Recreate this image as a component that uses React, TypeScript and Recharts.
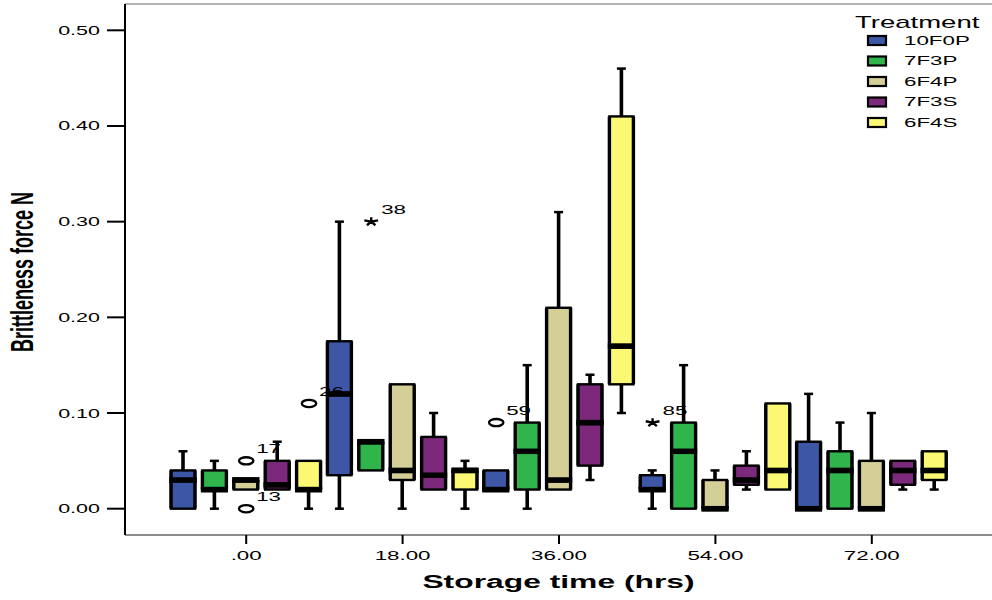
import React from 'react';
import { ComposedChart, Bar, Scatter, XAxis, YAxis, ReferenceLine } from 'recharts';

const TIMES = ['.00', '18.00', '36.00', '54.00', '72.00'];
const TREATMENTS = ['10F0P', '7F3P', '6F4P', '7F3S', '6F4S'];
const COLORS = ['#3d56a6', '#2fb54b', '#d4cf97', '#7c297c', '#fbf873'];

// [min, q1, median, q3, max] for each storage time
const BOX_10F0P = [
  [0, 0, 0.03, 0.04, 0.06],
  [0, 0.035, 0.12, 0.175, 0.3],
  [0.02, 0.02, 0.02, 0.04, 0.04],
  [0, 0.02, 0.02, 0.035, 0.04],
  [0, 0, 0, 0.07, 0.12]
];
const BOX_7F3P = [
  [0, 0.02, 0.02, 0.04, 0.05],
  [0.04, 0.04, 0.07, 0.07, 0.07],
  [0, 0.02, 0.06, 0.09, 0.15],
  [0, 0, 0.06, 0.09, 0.15],
  [0, 0, 0.04, 0.06, 0.09]
];
const BOX_6F4P = [
  [0.02, 0.02, 0.03, 0.03, 0.03],
  [0, 0.03, 0.04, 0.13, 0.13],
  [0.02, 0.02, 0.03, 0.21, 0.31],
  [0, 0, 0, 0.03, 0.04],
  [0, 0, 0, 0.05, 0.1]
];
const BOX_7F3S = [
  [0.02, 0.02, 0.025, 0.05, 0.07],
  [0.02, 0.02, 0.035, 0.075, 0.1],
  [0.03, 0.045, 0.09, 0.13, 0.14],
  [0.02, 0.025, 0.03, 0.045, 0.06],
  [0.02, 0.025, 0.04, 0.05, 0.05]
];
const BOX_6F4S = [
  [0, 0.02, 0.02, 0.05, 0.05],
  [0, 0.02, 0.04, 0.04, 0.05],
  [0.1, 0.13, 0.17, 0.41, 0.46],
  [0.02, 0.02, 0.04, 0.11, 0.11],
  [0.02, 0.03, 0.04, 0.06, 0.06]
];
const BOXES = [BOX_10F0P, BOX_7F3P, BOX_6F4P, BOX_7F3S, BOX_6F4S];

// outliers (o) and extremes (*)
const OUT_TIME = [0, 0, 0, 1, 2, 3];
const OUT_TREAT = [2, 2, 4, 1, 0, 0];
const OUT_VALUE = [0.05, 0, 0.11, 0.3, 0.09, 0.09];
const OUT_CASE = ['17', '13', '26', '38', '59', '85'];
const OUT_EXTREME = [false, false, false, true, false, true];

const Y_TICKS = [0, 0.1, 0.2, 0.3, 0.4, 0.5];
const Y_DOMAIN = [-0.0275, 0.5275];

const FONT = '"Liberation Sans", Arial, Helvetica, sans-serif';
const SX = 1.72; // the SPSS export is stretched sideways
const W = 992;
const H = 600;
const Y_AXIS_W = 125;
const PAD = { left: 43, right: 42 };
const BAND = (W - Y_AXIS_W - PAD.left - PAD.right) / TIMES.length;
const BOX_W = 24;
const BOX_GAP = 7.4;
const SLOT = (BOX_W + BOX_GAP) / BAND;

const rows = TIMES.map((t, i) => {
  const row: any = { time: t };
  BOXES.forEach((b, k) => {
    const [mn, q1, md, q3, mx] = b[i];
    row[`base${k}`] = mn;
    row[`lw${k}`] = q1 - mn;
    row[`bl${k}`] = md - q1;
    row[`bu${k}`] = q3 - md;
    row[`uw${k}`] = mx - q3;
  });
  return row;
});

const outliers = OUT_VALUE.map((v, i) => ({
  x: OUT_TIME[i] + (OUT_TREAT[i] - 2) * SLOT,
  y: v,
  label: OUT_CASE[i],
  extreme: OUT_EXTREME[i]
}));

function Whisker({ x, y, width, height, upper }: any) {
  if (!(height > 0.5)) return <g />;
  const cx = x + width / 2;
  const capY = upper ? y : y + height;
  return (
    <g>
      <line x1={cx} x2={cx} y1={y} y2={y + height} stroke="#000" strokeWidth={3.6} />
      <line x1={cx - 4.5} x2={cx + 4.5} y1={capY} y2={capY} stroke="#000" strokeWidth={2.5} />
    </g>
  );
}

function BoxHalf({ x, y, width, height, color, upper }: any) {
  const medY = upper ? y + height : y;
  return (
    <g>
      {height > 0.3 && (
        <g>
          <rect x={x} y={y} width={width} height={height} fill={color} stroke="#000" strokeWidth={2.4} />
          <line x1={x} x2={x} y1={y} y2={y + height} stroke="#000" strokeWidth={3.4} />
          <line x1={x + width} x2={x + width} y1={y} y2={y + height} stroke="#000" strokeWidth={3.4} />
        </g>
      )}
      <line x1={x - 1.5} x2={x + width + 1.5} y1={medY} y2={medY} stroke="#000" strokeWidth={5.5} />
    </g>
  );
}

function Outlier({ cx, cy, payload }: any) {
  const arms = [-90, -18, 54, 126, 198].map((a) => {
    const r = (a * Math.PI) / 180;
    return `M${cx},${cy}L${cx + Math.cos(r) * 4.2 * SX},${cy + Math.sin(r) * 4.4}`;
  });
  return (
    <g>
      {payload.extreme ? (
        <path d={arms.join('')} stroke="#000" strokeWidth={2.4} fill="none" />
      ) : (
        <ellipse cx={cx} cy={cy} rx={7.2} ry={3.6} fill="none" stroke="#000" strokeWidth={2.3} />
      )}
      <text
        transform={`translate(${cx + 10},${cy - 12}) scale(${SX},1)`}
        fontSize={13}
        fontFamily={FONT}
        dy="0.35em"
        fill="#000"
      >
        {payload.label}
      </text>
    </g>
  );
}

function YTick({ x, y, payload }: any) {
  return (
    <text transform={`translate(${x},${y}) scale(${SX},1)`} textAnchor="end" dy="0.36em" fontSize={12.5} fontFamily={FONT} fill="#000">
      {Number(payload.value).toFixed(2)}
    </text>
  );
}

function XTick({ x, y, payload }: any) {
  return (
    <text transform={`translate(${x},${y}) scale(${SX},1)`} textAnchor="middle" dy="0.71em" fontSize={13} fontFamily={FONT} fill="#000">
      {payload.value}
    </text>
  );
}

function YTitle() {
  return (
    <text
      transform={`translate(22,272) scale(${SX},1) rotate(-90)`}
      textAnchor="middle"
      dy="0.35em"
      fontSize={18}
      fontWeight="bold"
      fontFamily={FONT}
      fill="#000"
    >
      Brittleness force N
    </text>
  );
}

function XTitle({ viewBox }: any) {
  const cx = viewBox ? viewBox.x + viewBox.width / 2 : 558;
  return (
    <text
      transform={`translate(${cx},582) scale(${SX},1)`}
      textAnchor="middle"
      dy="0.35em"
      fontSize={18.5}
      fontWeight="bold"
      fontFamily={FONT}
      fill="#000"
    >
      Storage time (hrs)
    </text>
  );
}

function TreatmentLegend() {
  return (
    <svg width={W} height={H} style={{ position: 'absolute', left: 0, top: 0, pointerEvents: 'none' }}>
      <text transform={`translate(855,22.5) scale(${SX},1)`} dy="0.35em" fontSize={16} fontFamily={FONT} fill="#000">
        Treatment
      </text>
      {TREATMENTS.map((t, i) => {
        const cy = 40 + i * 20.5;
        return (
          <g key={t}>
            <rect x={868} y={cy - 4} width={18} height={9} fill={COLORS[i]} stroke="#000" strokeWidth={2.2} />
            <text transform={`translate(904,${cy}) scale(${SX},1)`} dy="0.35em" fontSize={13} fontFamily={FONT} fill="#000">
              {t}
            </text>
          </g>
        );
      })}
    </svg>
  );
}

export default function App() {
  return (
    <div style={{ position: 'absolute', left: 0, top: 0, width: W, height: H, background: '#fff' }}>
      <ComposedChart
        width={W}
        height={H}
        data={rows}
        margin={{ top: 4, right: 0, bottom: 0, left: 0 }}
        barSize={BOX_W}
        barGap={BOX_GAP}
      >
        <XAxis
          dataKey="time"
          padding={PAD}
          height={65}
          interval={0}
          tickSize={9}
          tickMargin={7}
          tick={<XTick />}
          tickLine={{ stroke: '#000', strokeWidth: 2 }}
          axisLine={{ stroke: '#666', strokeWidth: 1.5 }}
          label={<XTitle />}
        />
        <XAxis xAxisId="num" type="number" dataKey="x" domain={[-0.5, 4.5]} padding={PAD} hide allowDataOverflow />
        <YAxis
          domain={Y_DOMAIN}
          ticks={Y_TICKS}
          width={Y_AXIS_W}
          tickSize={18}
          tickMargin={7}
          tick={<YTick />}
          tickLine={{ stroke: '#000', strokeWidth: 2 }}
          axisLine={{ stroke: '#000', strokeWidth: 2 }}
          allowDataOverflow
          label={<YTitle />}
        />
        <ReferenceLine y={Y_DOMAIN[1]} stroke="#999" strokeWidth={1.5} />
        {TREATMENTS.flatMap((t, k) => [
          <Bar key={`base${k}`} dataKey={`base${k}`} stackId={`s${k}`} shape={() => <g />} isAnimationActive={false} />,
          <Bar key={`lw${k}`} dataKey={`lw${k}`} stackId={`s${k}`} shape={(p: any) => <Whisker {...p} />} isAnimationActive={false} />,
          <Bar key={`bl${k}`} dataKey={`bl${k}`} stackId={`s${k}`} shape={(p: any) => <BoxHalf {...p} color={COLORS[k]} />} isAnimationActive={false} />,
          <Bar key={`bu${k}`} dataKey={`bu${k}`} stackId={`s${k}`} shape={(p: any) => <BoxHalf {...p} color={COLORS[k]} upper />} isAnimationActive={false} />,
          <Bar key={`uw${k}`} dataKey={`uw${k}`} stackId={`s${k}`} shape={(p: any) => <Whisker {...p} upper />} isAnimationActive={false} />
        ])}
        <Scatter xAxisId="num" data={outliers} dataKey="y" shape={(p: any) => <Outlier {...p} />} isAnimationActive={false} />
      </ComposedChart>
      <TreatmentLegend />
    </div>
  );
}
